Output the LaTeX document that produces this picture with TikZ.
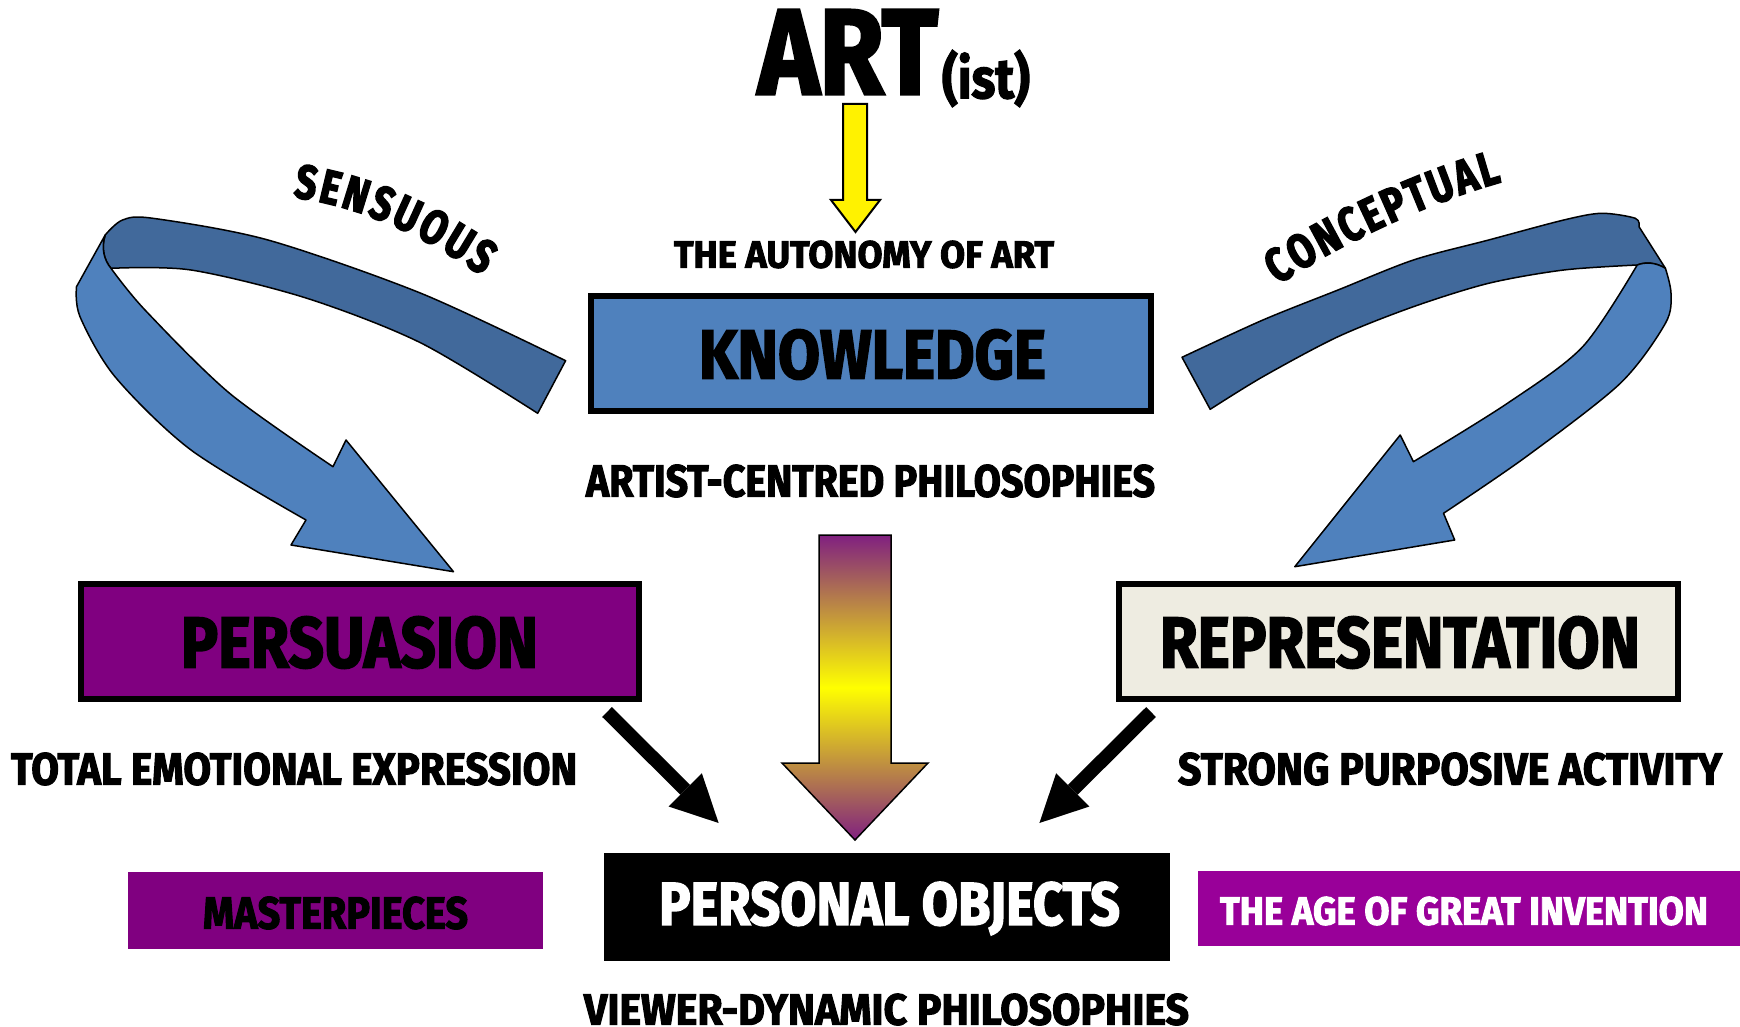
\documentclass[tikz,border=0pt]{standalone}
\usepackage{fontspec}
\usepackage{graphicx}
\newfontfamily\cf{Fira Sans}[FakeBold=2.5]
\newfontfamily\cfc{Fira Sans}[FakeBold=3,FakeStretch=0.78]
\usetikzlibrary{arrows.meta,decorations.text}
\definecolor{blueL}{RGB}{79,129,189}
\definecolor{blueD}{RGB}{65,105,155}
\definecolor{purp}{RGB}{128,0,128}
\definecolor{agep}{RGB}{153,0,153}
\definecolor{repr}{RGB}{238,236,225}
\definecolor{gpurp}{RGB}{128,32,128}
\newcommand\fitt[3]{\resizebox{#1}{#2}{\cf\bfseries #3}}
\newcommand\fittd[3]{\resizebox*{#1}{#2}{\cf\bfseries #3}}
\begin{document}
\begin{tikzpicture}[x=0.5pt,y=-0.5pt,
  txt/.style={inner sep=0pt,outer sep=0pt},
  bigbox/.style={draw=black,line width=3pt},
  ribbon/.style={draw=black,line width=0.75pt,line join=round},
  blk/.style={line width=6.9pt,-{Triangle[length=23.5pt,width=23.5pt,line width=0pt]}},
  curvetxt/.style={decorate,decoration={text along path,text align={fit to path},text={|\cfc\bfseries\fontsize{24}{24}\selectfont|#1}}}]
\path[use as bounding box] (0,0) rectangle (1740,1027);
\fill[white] (0,0) rectangle (1740,1027);

% title
\node[txt] (art) at (848,52) {\fitt{90pt}{42pt}{ART}};
\node[txt] (ist) at (986,78.5) {\fittd{44pt}{28.5pt}{(ist)}};
% yellow arrow
\filldraw[fill=yellow,draw=black,line width=1pt,line join=miter]
  (843,104) -- (867,104) -- (867,200) -- (880,200) -- (855.5,232) -- (831,200) -- (843,200) -- cycle;
\node[txt] (auto) at (864,254.5) {\fitt{190pt}{13.5pt}{THE AUTONOMY OF ART}};

% knowledge
\filldraw[bigbox,fill=blueL] (591,296) rectangle (1151,411);
\node[txt] (know) at (872.5,354.5) {\fitt{173.5pt}{24.5pt}{KNOWLEDGE}};
\node[txt] (acp) at (870.5,481) {\fitt{284.5pt}{16pt}{ARTIST-CENTRED PHILOSOPHIES}};

% left ribbon arrow
\filldraw[ribbon,fill=blueD] (565.6,360.7) -- plot[smooth] coordinates {(565.6,360.7) (421,293.3) (268,240) (153,218.3) (122.5,220) (105.2,235)}
  .. controls (101,248) and (104,260) .. (111,268.3)
  -- plot[smooth] coordinates {(111,268.3) (191,270) (306,298) (421,343) (537.7,413.3)} -- cycle;
\filldraw[ribbon,fill=blueL] (105.2,235) -- (76.5,286.7)
  -- plot[smooth] coordinates {(76.5,286.7) (80,316.7) (115,376.7) (191,450) (306,520)}
  -- (291,545) -- (453.5,571.7) -- (346,440) -- (333,466.7)
  -- plot[smooth] coordinates {(333,466.7) (229.6,393.3) (145,310) (111,268.3)}
  .. controls (104,260) and (101,248) .. (105.2,235) -- cycle;
\path[curvetxt=SENSUOUS] (293,197) .. controls (360,207) and (420,233) .. (482,276);

% right ribbon arrow
\filldraw[ribbon,fill=blueD] (1182,357.3) -- plot[smooth] coordinates {(1182,357.3) (1262.9,320) (1338,290) (1413.4,260) (1488.6,240) (1563.8,220) (1601.5,213.3) (1635.3,218.3) (1639,226.7)}
  -- (1665.4,268.3) .. controls (1655,262) and (1645,262) .. (1637.2,265)
  -- plot[smooth] coordinates {(1637.2,265) (1563.8,270) (1488.6,283.3) (1413.4,306.7) (1338,336.7) (1262.9,376.7) (1210.2,409.3)} -- cycle;
\filldraw[ribbon,fill=blueL] (1637.2,265) .. controls (1645,262) and (1655,262) .. (1665.4,268.3)
  -- plot[smooth] coordinates {(1665.4,268.3) (1671,293.3) (1665.4,323.3) (1620.3,383.3) (1526.2,456.7) (1443.5,513.3)}
  -- (1454.7,540) -- (1294.8,566.7) -- (1400.2,435) -- (1413.4,461.7)
  -- plot[smooth] coordinates {(1413.4,461.7) (1507.4,403.3) (1582.7,346.7) (1637.2,265)} -- cycle;
\path[curvetxt=CONCEPTUAL] (1278,285) .. controls (1330,250) and (1420,205) .. (1502,182);

% gradient arrow
\shadedraw[top color=gpurp,bottom color=gpurp,middle color=yellow,draw=black,line width=0.75pt]
  (819,535) -- (891,535) -- (891,763) -- (928,763) -- (855,840) -- (782,763) -- (819,763) -- cycle;

% persuasion / representation
\filldraw[bigbox,fill=purp] (81,584) rectangle (639,699);
\node[txt] (pers) at (359.5,642.5) {\fitt{178.5pt}{25.5pt}{PERSUASION}};
\filldraw[bigbox,fill=repr] (1119,584) rectangle (1678,699);
\node[txt] (repr) at (1400,642.5) {\fitt{240pt}{25.5pt}{REPRESENTATION}};
\node[txt] (tee) at (294,769) {\fitt{283pt}{16pt}{TOTAL EMOTIONAL EXPRESSION}};
\node[txt] (spa) at (1450,769) {\fitt{272pt}{16pt}{STRONG PURPOSIVE ACTIVITY}};

% black arrows
\coordinate (la1) at (607,712); \coordinate (la2) at (718.6,823);
\coordinate (ra1) at (1151,712); \coordinate (ra2) at (1039.4,823);
\draw[blk] (la1) -- (la2);
\draw[blk] (ra1) -- (ra2);

% bottom row
\fill[purp] (128,872) rectangle (543,949);
\node[txt] (mast) at (335.5,913) {\fitt{132.5pt}{16pt}{MASTERPIECES}};
\fill[black] (604,853) rectangle (1170,961);
\node[txt,text=white] (po) at (889.5,908.5) {\fitt{230.5pt}{21.5pt}{PERSONAL OBJECTS}};
\fill[agep] (1198,871) rectangle (1740,946);
\node[txt,text=white] (age) at (1464,911) {\fitt{244pt}{14pt}{THE AGE OF GREAT INVENTION}};
\node[txt] (vdp) at (886.5,1009.5) {\fitt{302.5pt}{15.5pt}{VIEWER-DYNAMIC PHILOSOPHIES}};
\end{tikzpicture}
\end{document}
